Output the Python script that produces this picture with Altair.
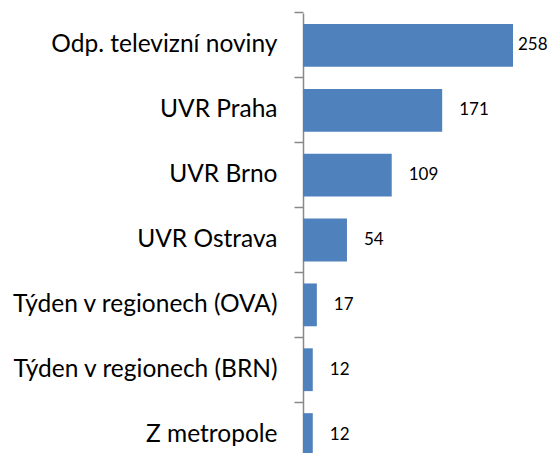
import altair as alt
import pandas as pd

categories = [
    "Odp. televizní noviny",
    "UVR Praha",
    "UVR Brno",
    "UVR Ostrava",
    "Týden v regionech (OVA)",
    "Týden v regionech (BRN)",
    "Z metropole",
]
values = [258, 171, 109, 54, 17, 12, 12]

df = pd.DataFrame({"kategorie": categories, "hodnota": values})

BAR_COLOR = "#4F81BD"
AXIS_COLOR = "#898989"
FONT = "Lato"

y_scale = alt.Scale(paddingInner=0.34, paddingOuter=0.17, range=[0, 454])

y_axis = alt.Axis(
    title=None,
    domainColor=AXIS_COLOR,
    domainWidth=1.5,
    tickColor=AXIS_COLOR,
    tickWidth=1.5,
    tickSize=9,
    bandPosition=-0.2576,
    labelFont=FONT,
    labelFontSize=24.5,
    labelColor="#000000",
    labelPadding=17,
    labelLimit=400,
)
y_enc = alt.Y("kategorie:N", sort=categories, scale=y_scale, axis=y_axis)
x_enc = alt.X(
    "hodnota:Q",
    scale=alt.Scale(domain=[0, 258], nice=False, zero=True),
    axis=None,
)

bars = alt.Chart(df).mark_bar(color=BAR_COLOR).encode(x=x_enc, y=y_enc)

labels_big = (
    alt.Chart(df)
    .transform_filter("datum.hodnota >= 200")
    .mark_text(align="left", baseline="middle", dx=5, font=FONT, fontSize=17, color="#000000")
    .encode(x=x_enc, y=y_enc, text="hodnota:Q")
)
labels_small = (
    alt.Chart(df)
    .transform_filter("datum.hodnota < 200")
    .mark_text(align="left", baseline="middle", dx=17, font=FONT, fontSize=17, color="#000000")
    .encode(x=x_enc, y=y_enc, text="hodnota:Q")
)

chart = (
    alt.layer(bars, labels_big, labels_small)
    .properties(
        width=210,
        height=440,
        background="white",
        autosize=alt.AutoSizeParams(type="none"),
        padding={"left": 295, "top": 5, "right": 34, "bottom": 0},
    )
    .configure_view(strokeOpacity=0, strokeWidth=0)
)

chart.save("out.html", embed_options={"renderer": "svg", "actions": False})
